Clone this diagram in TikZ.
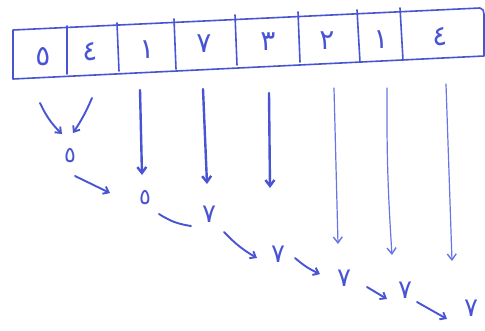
\documentclass[tikz,border=0pt]{standalone}
\usepackage{fontspec}
\newfontfamily\arabicfont[Script=Arabic]{DejaVu Sans}
\usetikzlibrary{arrows.meta}
\definecolor{ink}{RGB}{72,84,212}
\definecolor{inklight}{RGB}{104,116,226}
\tikzset{
  cellline/.style={ink, line width=1.6pt, line join=round, line cap=round},
  digit/.style={ink, inner sep=0pt, font=\arabicfont\fontsize{28}{28}\selectfont},
  rdigit/.style={ink, inner sep=0pt, font=\arabicfont\fontsize{26}{26}\selectfont},
  sdigit/.style={ink, inner sep=0pt, font=\arabicfont\fontsize{22}{22}\selectfont},
  thickarrow/.style={ink, line width=2.4pt, line cap=round, -{Straight Barb[length=6pt,width=9pt,line width=2.4pt]}},
  thinarrow/.style={inklight, line width=1.2pt, line cap=round, -{Straight Barb[length=6pt,width=9pt,line width=1.4pt]}},
  midarrow/.style={ink, line width=1.9pt, line cap=round, -{Straight Barb[length=5pt,width=8pt,line width=1.9pt]}},
  plainline/.style={ink, line width=1.9pt, line cap=round},
}
\begin{document}
\begin{tikzpicture}[x=1pt,y=-1pt]
\useasboundingbox (0,0) rectangle (485,330);
% outer box
\draw[cellline] (13,30) -- (480,8) to[out=0,in=90] (484,14) -- (484,56) -- (13,79) -- cycle;
% dividers
\draw[cellline] (67,26) -- (67,74);
\draw[cellline] (117,23) -- (119,71);
\draw[cellline] (174,19) -- (176,69);
\draw[cellline] (235,15) -- (237,65);
\draw[cellline] (298,12) -- (300,62);
\draw[cellline] (357,10) -- (360,62);
\draw[cellline] (400,8) -- (403,60);
% cells
\node[digit] (c1) at (43,57) {٥};
\node[digit] (c2) at (90,52) {٤};
\node[digit] (c3) at (147,50) {١};
\node[digit] (c4) at (204,44) {٧};
\node[digit] (c5) at (268,42) {٣};
\node[digit] (c6) at (327,41) {٢};
\node[digit] (c7) at (381,40) {١};
\node[digit] (c8) at (440,37) {٤};
% results
\node[sdigit] (r1) at (70,156) {٥};
\node[sdigit] (r2) at (145,198) {٥};
\node[rdigit] (r3) at (209,214) {٧};
\node[rdigit] (r4) at (278,254) {٧};
\node[rdigit] (r5) at (344,278) {٧};
\node[rdigit] (r6) at (405,290) {٧};
\node[rdigit] (r7) at (471,308) {٧};
% arrow ends
\coordinate (a1s) at (40,103); \coordinate (a1e) at (62,134);
\coordinate (a2s) at (92,98);  \coordinate (a2e) at (73,133);
\coordinate (a3s) at (75,176); \coordinate (a3e) at (110,193);
\coordinate (v1s) at (140,90); \coordinate (v1e) at (142,175);
\coordinate (v2s) at (203,89); \coordinate (v2e) at (207,184);
\coordinate (v3s) at (269,93); \coordinate (v3e) at (270,188);
\coordinate (v4s) at (334,88); \coordinate (v4e) at (338,244);
\coordinate (v5s) at (387,88); \coordinate (v5e) at (392,255);
\coordinate (v6s) at (446,84); \coordinate (v6e) at (452,261);
\coordinate (l1s) at (159,214); \coordinate (l1e) at (191,226);
\coordinate (a4s) at (224,232); \coordinate (a4e) at (257,258);
\coordinate (a5s) at (295,258); \coordinate (a5e) at (320,274);
\coordinate (a6s) at (367,287); \coordinate (a6e) at (387,299);
\coordinate (a7s) at (417,302); \coordinate (a7e) at (447,319);
% connectors
\draw[midarrow] (a1s) to[bend right=10] (a1e);
\draw[midarrow] (a2s) to[bend left=5] (a2e);
\draw[midarrow] (a3s) -- (a3e);
\draw[thickarrow] (v1s) -- (v1e);
\draw[thickarrow] (v2s) -- (v2e);
\draw[thickarrow] (v3s) -- (v3e);
\draw[thinarrow] (v4s) -- (v4e);
\draw[thinarrow] (v5s) to[bend right=2] (v5e);
\draw[thinarrow] (v6s) -- (v6e);
\draw[plainline] (l1s) to[bend right=12] (l1e);
\draw[midarrow] (a4s) to[bend right=8] (a4e);
\draw[midarrow] (a5s) to[bend right=8] (a5e);
\draw[midarrow] (a6s) -- (a6e);
\draw[midarrow] (a7s) -- (a7e);
\end{tikzpicture}
\end{document}
